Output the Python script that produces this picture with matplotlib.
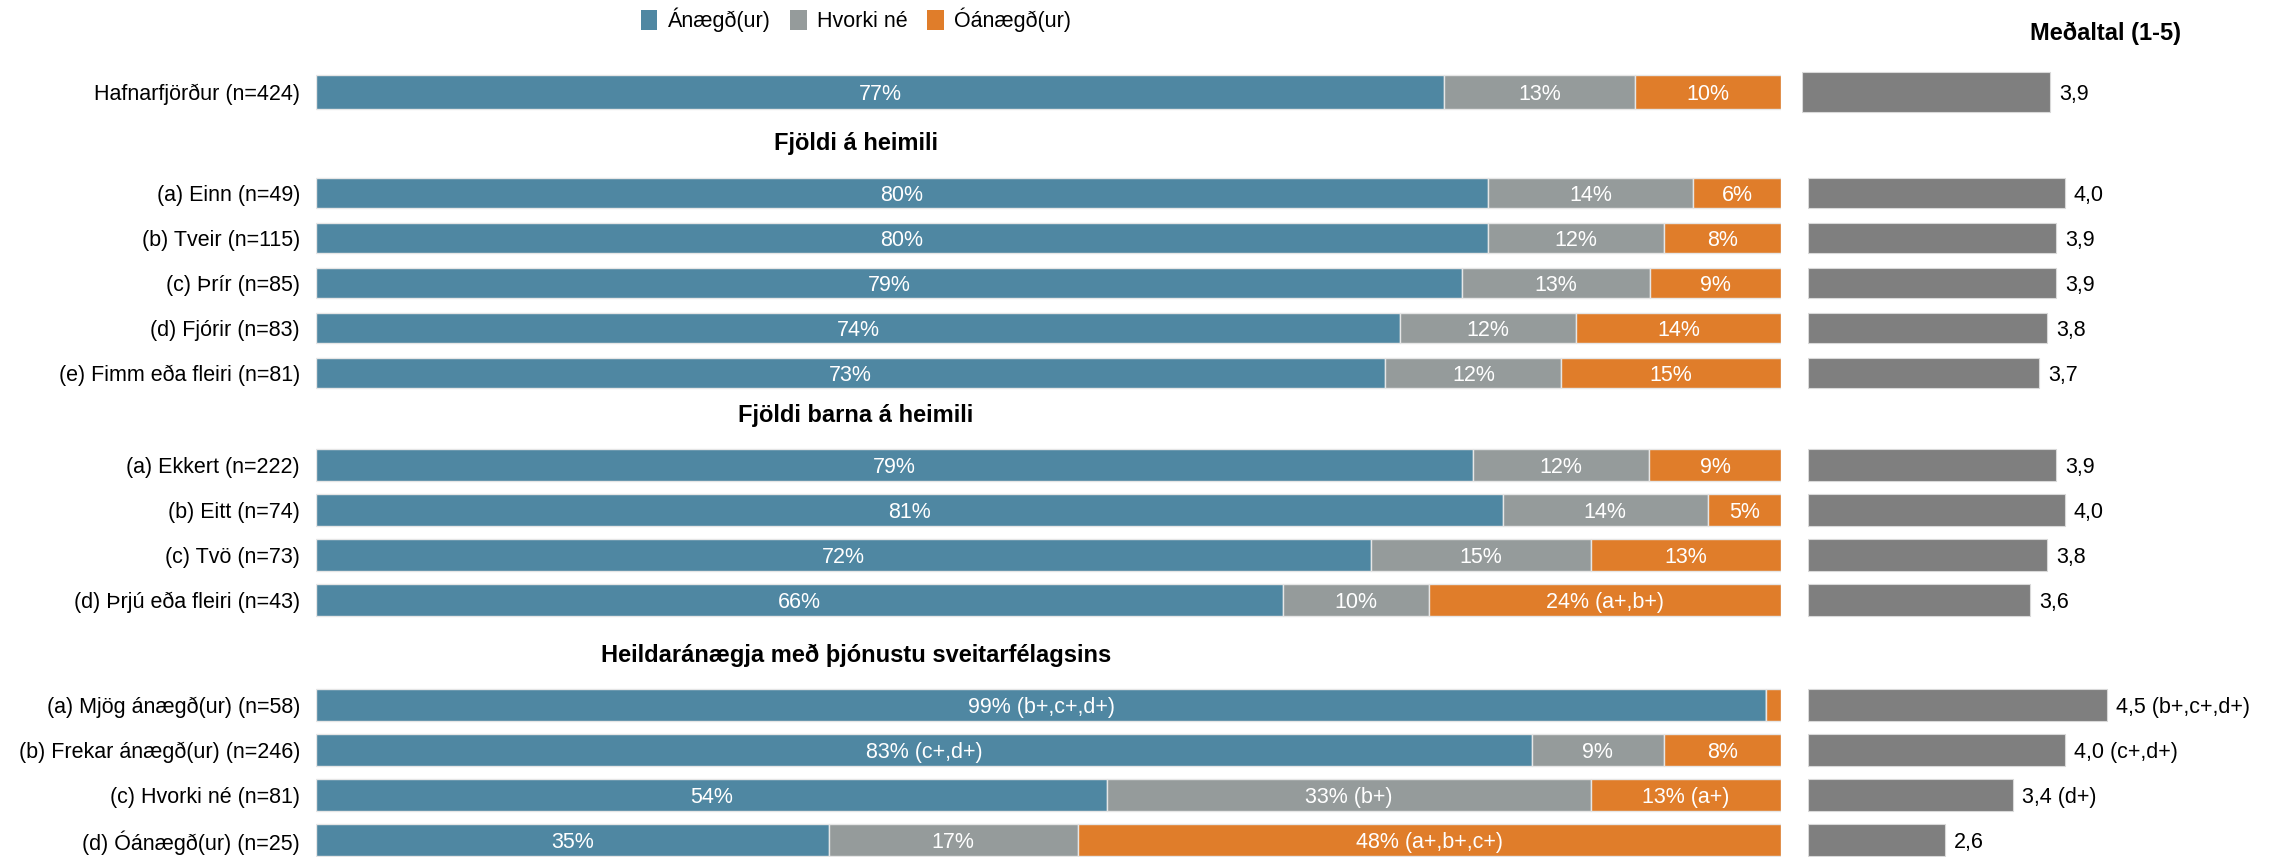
import numpy as np
import matplotlib.pyplot as plt
from matplotlib.patches import Patch
from matplotlib.transforms import blended_transform_factory

plt.rcParams['font.family'] = ['Liberation Sans', 'DejaVu Sans']

W, H, DPI = 2285, 857, 100

categories = [
    'Hafnarfjörður (n=424)',
    '(a) Einn (n=49)', '(b) Tveir (n=115)', '(c) Þrír (n=85)',
    '(d) Fjórir (n=83)', '(e) Fimm eða fleiri (n=81)',
    '(a) Ekkert (n=222)', '(b) Eitt (n=74)', '(c) Tvö (n=73)',
    '(d) Þrjú eða fleiri (n=43)',
    '(a) Mjög ánægð(ur) (n=58)', '(b) Frekar ánægð(ur) (n=246)',
    '(c) Hvorki né (n=81)', '(d) Óánægð(ur) (n=25)',
]
satisfied = [77, 80, 80, 79, 74, 73, 79, 81, 72, 66, 99, 83, 54, 35]
neutral = [13, 14, 12, 13, 12, 12, 12, 14, 15, 10, 0, 9, 33, 17]
dissatisfied = [10, 6, 8, 9, 14, 15, 9, 5, 13, 24, 1, 8, 13, 48]
means = [3.9, 4.0, 3.9, 3.9, 3.8, 3.7, 3.9, 4.0, 3.8, 3.6, 4.5, 4.0, 3.4, 2.6]

# marktektarmerki aftan við gildin
sat_notes = [''] * 10 + ['(b+,c+,d+)', '(c+,d+)', '', '']
neu_notes = [''] * 12 + ['(b+)', '']
dis_notes = [''] * 9 + ['(a+,b+)', '', '', '(a+)', '(a+,b+,c+)']
mean_notes = [''] * 10 + ['(b+,c+,d+)', '(c+,d+)', '(d+)', '']

series_names = ['Ánægð(ur)', 'Hvorki né', 'Óánægð(ur)']
group_titles = ['Fjöldi á heimili', 'Fjöldi barna á heimili',
                'Heildaránægja með þjónustu sveitarfélagsins']
group_sizes = [5, 4, 4]

colors = ['#4f87a2', '#959b9b', '#e07d2a']
mean_color = '#7f7f7f'

# y-staðsetningar raða (í raðaeiningum)
gaps = [2.24, 2.05, 2.33]
ypos = [0.0]
header_y = []
for gap, size in zip(gaps, group_sizes):
    start = ypos[-1] + gap
    header_y.append(start - 1.1)
    ypos.extend(start + i for i in range(size))
ypos = np.array(ypos)
heights = np.array([0.76] + [0.67] * 5 + [0.72] * 8)
ylim = (17.0, -2.044)

fig = plt.figure(figsize=(W / DPI, H / DPI), dpi=DPI)

# staflaðar súlur
ax = fig.add_axes([316 / W, 0, 1465 / W, 1])
data = np.array([satisfied, neutral, dissatisfied], dtype=float)
shares = data / data.sum(axis=0) * 100
raw_vals = [satisfied, neutral, dissatisfied]
notes = [sat_notes, neu_notes, dis_notes]
left = np.zeros(len(categories))
for k in range(3):
    ax.barh(ypos, shares[k], left=left, height=heights, color=colors[k],
            edgecolor='#e6e6e6', linewidth=1.0)
    for i in range(len(categories)):
        if raw_vals[k][i] >= 3:
            txt = f'{raw_vals[k][i]}%'
            if notes[k][i]:
                txt += ' ' + notes[k][i]
            ax.text(left[i] + shares[k][i] / 2, ypos[i], txt, ha='center',
                    va='center_baseline', color='white', fontsize=15.5)
    left += shares[k]

ax.set_xlim(0, 100)
ax.set_ylim(*ylim)
ax.set_yticks(ypos, categories, fontsize=15.5)
ax.tick_params(axis='y', length=0, pad=11.5)
ax.set_xticks([])
for s in ax.spines.values():
    s.set_visible(False)

# kaflafyrirsagnir
hx = 856 / W
head_tr = blended_transform_factory(fig.transFigure, ax.transData)
for title, yh in zip(group_titles, header_y):
    ax.text(hx, yh, title, transform=head_tr, ha='center', va='center',
            fontsize=17, fontweight='bold')

# meðaltöl (heildarröðin er örlítið hliðruð í frumritinu)
ax_top = fig.add_axes([1802 / W, 0, 342 / W, 1])
axm = fig.add_axes([1808 / W, 0, 342 / W, 1])
mh = heights.copy()
mh[0] = 0.87
for a, rows in [(ax_top, [0]), (axm, list(range(1, len(means))))]:
    vals = np.array([means[i] for i in rows])
    a.barh(ypos[rows], vals - 1, left=1, height=mh[rows], color=mean_color,
           edgecolor='#d9d9d9', linewidth=0.8)
    for i in rows:
        lab = f'{means[i]:.1f}'.replace('.', ',')
        if mean_notes[i]:
            lab += ' ' + mean_notes[i]
        a.annotate(lab, (means[i], ypos[i]), xytext=(6.5, 0),
                   textcoords='offset points', ha='left',
                   va='center_baseline', fontsize=15.5, annotation_clip=False)
    a.set_xlim(1, 5)
    a.set_ylim(*ylim)
    a.axis('off')

fig.text(2105 / W, 1 - 33 / H, 'Meðaltal (1-5)', ha='center', va='center',
         fontsize=17, fontweight='bold')

handles = [Patch(facecolor=c, label=n) for c, n in zip(colors, series_names)]
fig.legend(handles=handles, loc='center', bbox_to_anchor=(hx, 1 - 20 / H),
           ncol=3, frameon=False, fontsize=15.5, handlelength=0.75,
           handleheight=1.1, handletextpad=0.47, columnspacing=0.93)

fig.savefig('out.png', dpi=DPI)
